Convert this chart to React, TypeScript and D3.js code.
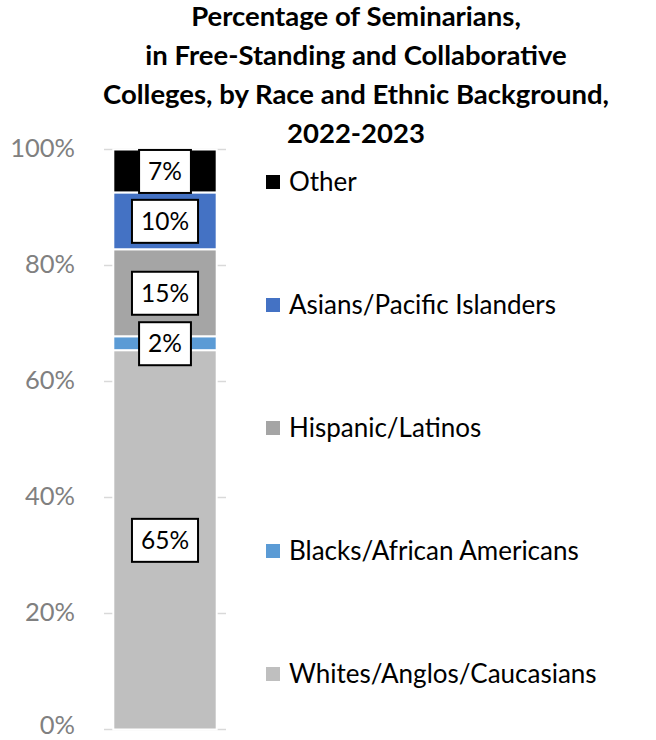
import React, { useEffect, useRef } from 'react'
import * as d3 from 'd3'

// series, bottom to top of the stack
const categories = ['Whites/Anglos/Caucasians', 'Blacks/African Americans', 'Hispanic/Latinos', 'Asians/Pacific Islanders', 'Other']
const shares = [0.654, 0.024, 0.15, 0.098, 0.074]
const shareLabels = ['65%', '2%', '15%', '10%', '7%']
const colors = ['#BFBFBF', '#5B9BD5', '#A5A5A5', '#4472C4', '#000000']
const yTicks = [0, 0.2, 0.4, 0.6, 0.8, 1]
const titleLines = [
    'Percentage of Seminarians,',
    'in Free-Standing and Collaborative',
    'Colleges, by Race and Ethnic Background,',
    '2022-2023'
]

const width = 656
const height = 740
const font = 'Lato, "Open Sans", sans-serif'

function App() {
    const ref = useRef(null)

    useEffect(() => {
        const svg = d3.select(ref.current)
        svg.selectAll('*').remove()

        const y = d3.scaleLinear().domain([0, 1]).range([729.5, 149.5])
        const x = d3.scaleBand().domain(['2022-2023']).range([104, 226]).paddingInner(0).paddingOuter(0.09)

        // stacked bounds
        const stack = shares.map((v, i) => {
            const lo = d3.sum(shares.slice(0, i))
            return { cat: categories[i], lo, hi: lo + v, label: shareLabels[i], color: colors[i] }
        })

        // title
        svg.append('g')
            .selectAll('text')
            .data(titleLines)
            .join('text')
            .attr('x', 356)
            .attr('y', (d, i) => 25.5 + i * 39.2)
            .attr('text-anchor', 'middle')
            .attr('font-family', font)
            .attr('font-weight', 'bold')
            .attr('font-size', 27.5)
            .attr('fill', '#000')
            .text(d => d)

        // gridlines
        svg.append('g')
            .selectAll('line')
            .data(yTicks)
            .join('line')
            .attr('x1', x.range()[0]).attr('x2', x.range()[1])
            .attr('y1', d => y(d)).attr('y2', d => y(d))
            .attr('stroke', '#D9D9D9')
            .attr('stroke-width', 1.5)

        // y axis labels (bottom one nudged up so it stays inside the frame)
        svg.append('g')
            .selectAll('text')
            .data(yTicks)
            .join('text')
            .attr('x', 75)
            .attr('y', d => Math.min(y(d), 726.5))
            .attr('dy', '0.3em')
            .attr('text-anchor', 'end')
            .attr('font-family', font)
            .attr('font-size', 25.5)
            .attr('fill', '#808080')
            .text(d => d3.format('.0%')(d))

        const bx = x('2022-2023')
        const bw = x.bandwidth()

        // bar segments
        svg.append('g')
            .selectAll('rect')
            .data(stack)
            .join('rect')
            .attr('x', bx)
            .attr('width', bw)
            .attr('y', d => y(d.hi))
            .attr('height', d => y(d.lo) - y(d.hi))
            .attr('fill', d => d.color)
            .attr('stroke', '#fff')
            .attr('stroke-width', 2)

        // data labels in boxes
        const labels = svg.append('g')
            .selectAll('g')
            .data(stack)
            .join('g')
            .attr('transform', d => `translate(${bx + bw / 2},${y((d.lo + d.hi) / 2) + 0.5})`)

        labels.append('text')
            .attr('text-anchor', 'middle')
            .attr('dy', '0.35em')
            .attr('font-family', font)
            .attr('font-size', 24.5)
            .attr('fill', '#000')
            .text(d => d.label)

        labels.each(function () {
            const g = d3.select(this)
            const t = g.select('text').node() as SVGTextElement
            const w = t.getComputedTextLength() + 18
            g.insert('rect', 'text')
                .attr('x', -w / 2)
                .attr('y', -21.5)
                .attr('width', w)
                .attr('height', 43)
                .attr('fill', '#fff')
                .attr('stroke', '#000')
                .attr('stroke-width', 2)
        })

        // legend, top to bottom = reversed stack
        const legendCats = categories.slice().reverse()
        const ly = d3.scalePoint().domain(legendCats).range([182, 674])
        const color = d3.scaleOrdinal().domain(categories).range(colors)

        const legend = svg.append('g')
            .selectAll('g')
            .data(legendCats)
            .join('g')
            .attr('transform', d => `translate(266,${ly(d)})`)

        legend.append('rect')
            .attr('x', 0).attr('y', -7)
            .attr('width', 14).attr('height', 14)
            .attr('fill', d => color(d) as string)

        legend.append('text')
            .attr('x', 23)
            .attr('dy', '0.35em')
            .attr('font-family', font)
            .attr('font-size', 26)
            .attr('fill', '#000')
            .text(d => d)
    }, [])

    return (
        <svg
            ref={ref}
            width={width}
            height={height}
            style={{ position: 'absolute', left: 0, top: 0, background: '#fff' }}
        />
    )
}

export default App
